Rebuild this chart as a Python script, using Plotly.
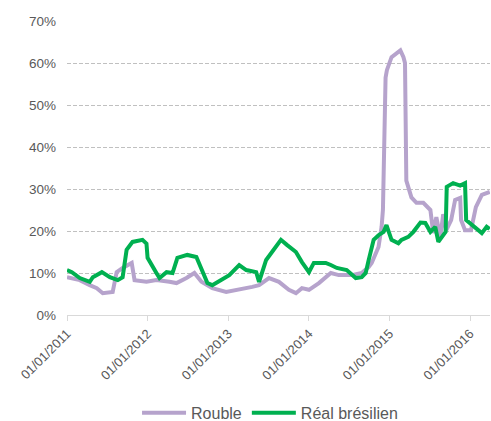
import plotly.graph_objects as go

rouble_dates = [
    "2011-01-01", "2011-02-28", "2011-04-14", "2011-05-16", "2011-06-12", "2011-07-27",
    "2011-08-14", "2011-09-10", "2011-10-21", "2011-11-03", "2011-12-27", "2012-02-10",
    "2012-04-09", "2012-05-11", "2012-06-25", "2012-07-31", "2012-09-01", "2012-10-20",
    "2012-12-22", "2013-02-19", "2013-04-19", "2013-05-20", "2013-07-04", "2013-08-18",
    "2013-10-02", "2013-11-03", "2013-11-30", "2014-01-01", "2014-02-15", "2014-04-10",
    "2014-05-16", "2014-07-14", "2014-08-28", "2014-09-28", "2014-10-12", "2014-11-12",
    "2014-11-26", "2014-12-02", "2014-12-08", "2014-12-14", "2014-12-20", "2015-01-10",
    "2015-02-19", "2015-03-05", "2015-03-12", "2015-03-15", "2015-03-18", "2015-04-10",
    "2015-05-03", "2015-06-03", "2015-07-05", "2015-07-18", "2015-08-01", "2015-08-19",
    "2015-09-01", "2015-09-15", "2015-10-07", "2015-10-25", "2015-11-17", "2015-11-21",
    "2015-12-09", "2016-01-05", "2016-01-27", "2016-02-23", "2016-03-30",
]
rouble_values = [
    9.0, 8.3, 7.1, 6.4, 5.2, 5.5,
    10.2, 11.2, 12.4, 8.3, 7.9, 8.3,
    7.9, 7.6, 8.8, 10.0, 7.9, 6.4,
    5.5, 6.0, 6.7, 7.1, 8.8, 7.9,
    6.0, 5.2, 6.4, 6.0, 7.6, 10.0,
    9.5, 9.5, 10.0, 11.4, 12.4, 16.2,
    21.0, 25.0, 42.0, 56.5, 58.3, 61.4,
    63.0, 61.4, 60.0, 49.5, 32.0, 28.0,
    26.7, 26.7, 25.0, 19.5, 23.3, 18.5,
    24.0, 20.2, 22.6, 27.4, 27.9, 22.6,
    20.2, 20.2, 25.7, 28.6, 29.3,
]

real_dates = [
    "2011-01-01", "2011-01-23", "2011-02-28", "2011-04-14", "2011-04-28", "2011-06-08",
    "2011-07-14", "2011-08-19", "2011-09-10", "2011-09-28", "2011-10-25", "2011-12-09",
    "2011-12-27", "2012-01-01", "2012-02-10", "2012-02-24", "2012-03-27", "2012-04-23",
    "2012-05-15", "2012-06-29", "2012-08-09", "2012-09-01", "2012-09-28", "2012-10-20",
    "2012-11-30", "2013-01-05", "2013-02-19", "2013-03-23", "2013-05-07", "2013-05-20",
    "2013-06-21", "2013-07-27", "2013-08-27", "2013-09-23", "2013-11-03", "2013-11-30",
    "2014-01-01", "2014-01-23", "2014-03-18", "2014-04-10", "2014-05-07", "2014-06-21",
    "2014-08-01", "2014-08-28", "2014-09-15", "2014-09-28", "2014-10-21", "2014-11-12",
    "2014-12-05", "2014-12-18", "2015-01-10", "2015-02-10", "2015-02-24", "2015-03-27",
    "2015-04-19", "2015-05-21", "2015-06-12", "2015-07-05", "2015-07-27", "2015-08-10",
    "2015-09-12", "2015-09-17", "2015-10-16", "2015-11-17", "2015-12-09", "2015-12-14",
    "2016-01-18", "2016-02-23", "2016-03-16", "2016-03-30",
]
real_values = [
    10.7, 10.2, 8.8, 7.9, 9.0, 10.2,
    9.0, 8.3, 9.0, 15.5, 17.4, 17.9,
    17.0, 13.6, 10.0, 8.8, 10.2, 10.0,
    13.6, 14.3, 13.8, 10.7, 7.6, 7.1,
    8.3, 9.5, 11.9, 10.7, 10.2, 7.9,
    13.1, 15.5, 17.9, 16.7, 15.0, 12.6,
    10.2, 12.4, 12.4, 11.9, 11.2, 10.7,
    8.8, 9.0, 10.0, 13.0, 17.9, 19.0,
    19.8, 21.4, 17.9, 17.1, 17.9, 18.6,
    19.8, 22.0, 21.9, 19.8, 21.0, 17.4,
    19.8, 30.5, 31.4, 30.8, 31.4, 22.6,
    21.0, 19.5, 21.0, 20.5,
]

tick_dates = ["2011-01-01", "2012-01-01", "2013-01-01", "2014-01-01", "2015-01-01", "2016-01-01"]
tick_labels = ["01/01/2011", "01/01/2012", "01/01/2013", "01/01/2014", "01/01/2015", "01/01/2016"]
y_ticks = [0, 10, 20, 30, 40, 50, 60, 70]
y_labels = ["0%", "10%", "20%", "30%", "40%", "50%", "60%", "70%"]

fig = go.Figure()
fig.add_trace(go.Scatter(x=rouble_dates, y=rouble_values, mode="lines", name="Rouble",
                         line=dict(color="#b6a3cc", width=4)))
fig.add_trace(go.Scatter(x=real_dates, y=real_values, mode="lines", name="Réal brésilien",
                         line=dict(color="#00b050", width=4)))

fig.update_layout(
    width=491, height=421,
    margin=dict(l=67, r=1, t=21, b=106, autoexpand=False),
    paper_bgcolor="white", plot_bgcolor="white",
    font=dict(family="Liberation Sans, Arial, sans-serif", size=13, color="#595959"),
    showlegend=True,
    legend=dict(orientation="h", x=0.48, xanchor="center", xref="paper",
                y=-0.333, yanchor="middle", font=dict(size=16, color="#595959"),
                itemwidth=44, traceorder="normal"),
    xaxis=dict(
        range=["2011-01-01", "2016-03-31"], automargin=False,
        tickvals=tick_dates, ticktext=tick_labels, tickangle=-45,
        showgrid=False, showline=True, linecolor="#d9d9d9", linewidth=1,
        ticks="outside", ticklen=5, tickcolor="#d9d9d9",
        tickfont=dict(size=13, color="#595959"), zeroline=False,
    ),
    yaxis=dict(
        range=[0, 70], tickvals=y_ticks, ticktext=y_labels, automargin=False,
        showgrid=True, gridcolor="#c0c0c0", gridwidth=1, griddash="4px,2px",
        zeroline=False, showline=False, ticks="",
        ticklabelstandoff=10, tickfont=dict(size=13.5, color="#595959"),
    ),
)

fig.write_html("out.html", config={"displayModeBar": False},
               post_script="document.body.style.margin='0';")
